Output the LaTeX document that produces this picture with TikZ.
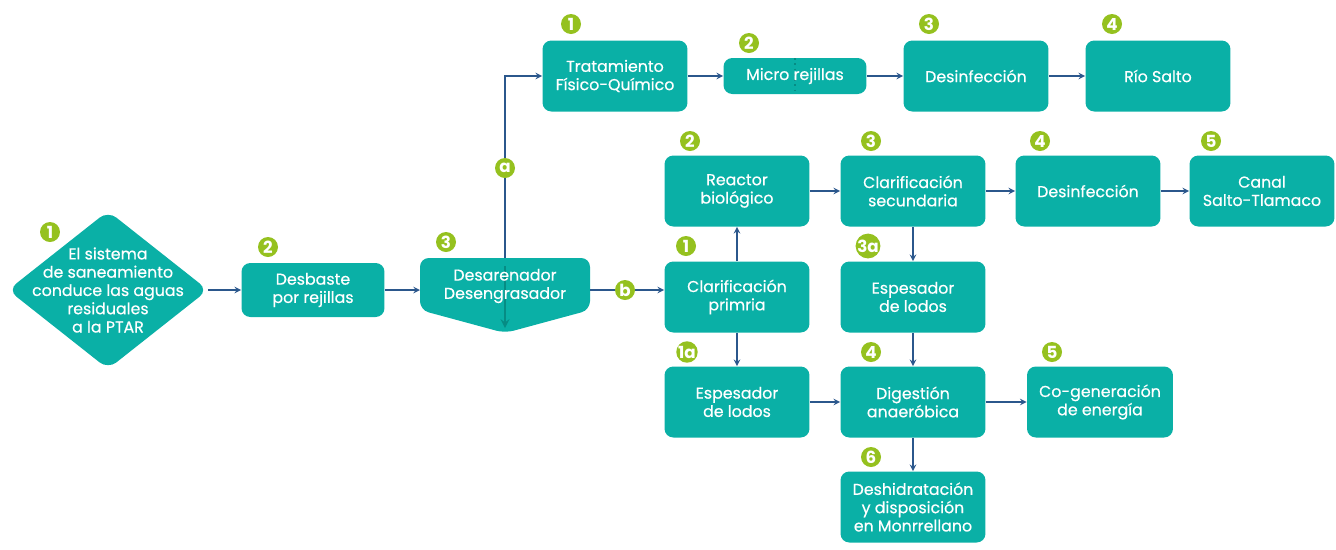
\documentclass[tikz,border=0pt]{standalone}
\usepackage{fontspec}
\setmainfont{Poppins}
\newfontfamily\boxfont{Poppins}[FakeBold=0.5]
\usetikzlibrary{arrows,positioning,calc}
\definecolor{ptarteal}{RGB}{10,176,166}
\definecolor{ptardark}{RGB}{6,140,132}
\definecolor{ptargreen}{RGB}{149,193,31}
\definecolor{ptarblue}{RGB}{43,87,140}

\begin{document}
\begin{tikzpicture}[>=stealth, x=0.02cm, y=-0.02cm,
	procbox/.style={rectangle, rounded corners=5pt, fill=ptarteal, text=white, align=center,
		minimum width=2.9cm, minimum height=1.42cm, inner sep=2pt,
		font=\boxfont\fontsize{9}{10.4}\selectfont},
	plaintext/.style={text=white, align=center, inner sep=0pt, font=\boxfont\fontsize{9}{10.4}\selectfont},
	badge/.style={circle, fill=ptargreen, text=white, inner sep=0pt, minimum size=0.4cm,
		font=\fontsize{9.5}{9}\selectfont\bfseries},
	flow/.style={->, draw=ptarblue, line width=0.7pt}]
	\useasboundingbox (0,0) rectangle (1336,549);
	%coordinates
	\coordinate (srcW) at (8,290);
	\coordinate (srcN) at (108,211);
	\coordinate (srcE) at (208,290);
	\coordinate (srcS) at (108,369);
	
	\coordinate (desNW)  at (420,258);
	\coordinate (desNE)  at (590,258);
	\coordinate (desSE)  at (590,310);
	\coordinate (desTip) at (505,333);
	\coordinate (desSW)  at (420,310);
	\coordinate (desW)   at (420,290);
	\coordinate (desE)   at (590,290);
	\coordinate (desN)   at (505,258);
	
	%shapes
	\fill[ptarteal, rounded corners=6pt] (srcW) -- (srcN) -- (srcE) -- (srcS) -- cycle;
	\fill[ptarteal, rounded corners=5pt] (desNW) -- (desNE) -- (desSE) -- (desTip) -- (desSW) -- cycle;
	\draw[->, ptardark, line width=1.2pt] (505,266) -- (505,328);
	
	%nodes
	\node[plaintext] (src) at (108,290) {El sistema\\de saneamiento\\conduce las aguas\\residuales\\a la PTAR};
	\node[procbox, minimum width=2.86cm, minimum height=1.08cm] (desb) at (313,290) {Desbaste\\por rejillas};
	\node[plaintext] (des) at (505,286) {Desarenador\\Desengrasador};
	
	\node[procbox] (trat)  at (615,76)  {Tratamiento\\Físico-Químico};
	\node[procbox, minimum width=2.86cm, minimum height=0.72cm,
		path picture={\draw[dotted, ptardark, line width=1pt] (path picture bounding box.north) -- (path picture bounding box.south);}]
		(micro) at (795,76) {Micro rejillas};
	\node[procbox] (desa)  at (976,76)  {Desinfección};
	\node[procbox] (rio)   at (1158,76) {Río Salto};
	
	\node[procbox] (reac)  at (737,191)  {Reactor\\biológico};
	\node[procbox] (clsec) at (913,191)  {Clarificación\\secundaria};
	\node[procbox] (desb2) at (1088,191) {Desinfección};
	\node[procbox] (canal) at (1262,191) {Canal\\Salto-Tlamaco};
	
	\node[procbox] (clpri) at (737,297)  {Clarificación\\primria};
	\node[procbox] (espb)  at (913,297)  {Espesador\\de lodos};
	
	\node[procbox] (espa)  at (737,402)  {Espesador\\de lodos};
	\node[procbox] (dig)   at (913,402)  {Digestión\\anaeróbica};
	\node[procbox, minimum width=2.92cm] (cogen) at (1100,402) {Co-generación\\de energía};
	
	\node[procbox] (desh)  at (913,507)  {Deshidratación\\y disposición\\en Monrrellano};
	
	%connectors
	\draw[flow] (srcE) -- (desb.west);
	\draw[flow] (desb.east) -- (desW);
	\draw[flow] (desN) |- (trat.west);
	\draw[flow] (desE) -- (clpri.west |- desE);
	
	\draw[flow] (trat.east) -- (micro.west);
	\draw[flow] (micro.east) -- (desa.west);
	\draw[flow] (desa.east) -- (rio.west);
	
	\draw[flow] (clpri.north) -- (reac.south);
	\draw[flow] (reac.east) -- (clsec.west);
	\draw[flow] (clsec.east) -- (desb2.west);
	\draw[flow] (desb2.east) -- (canal.west);
	
	\draw[flow] (clsec.south) -- (espb.north);
	\draw[flow] (espb.south) -- (dig.north);
	\draw[flow] (clpri.south) -- (espa.north);
	\draw[flow] (espa.east) -- (dig.west);
	\draw[flow] (dig.east) -- (cogen.west);
	\draw[flow] (dig.south) -- (desh.north);
	
	%badges
	\node[badge] (n1)   at (50,232)   {1};
	\node[badge] (n2)   at (268,247)  {2};
	\node[badge] (n3)   at (446,242)  {3};
	\node[badge] (na)   at (505,168)  {a};
	\node[badge] (nb)   at (625,290)  {b};
	\node[badge] (t1)   at (571,24)   {1};
	\node[badge] (t2)   at (749,43)   {2};
	\node[badge] (t3)   at (929,24)   {3};
	\node[badge] (t4)   at (1112,24)  {4};
	\node[badge] (r2)   at (690,141)  {2};
	\node[badge] (r3)   at (871,141)  {3};
	\node[badge] (r4)   at (1040,141) {4};
	\node[badge] (r5)   at (1211,141) {5};
	\node[badge] (r1)   at (686,246)  {1};
	\node[badge] (r3a)  at (868,246)  {3a};
	\node[badge] (r1a)  at (687,352)  {1a};
	\node[badge] (l4)   at (871,352)  {4};
	\node[badge] (l5)   at (1052,352) {5};
	\node[badge] (l6)   at (871,457)  {6};
\end{tikzpicture}
\end{document}
